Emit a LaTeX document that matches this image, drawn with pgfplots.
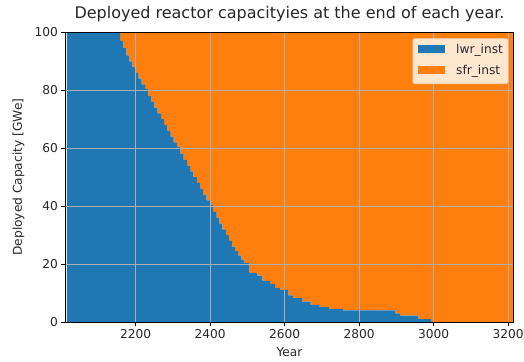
\documentclass[border=0pt]{standalone}
\usepackage{pgfplots}
\pgfplotsset{compat=1.18}
\usepackage{pgfplotstable}
\usepackage{fontspec}
\setmainfont{DejaVu Sans}
\definecolor{mblue}{HTML}{1F77B4}
\definecolor{morange}{HTML}{FF7F0E}
\definecolor{mgrid}{HTML}{B0B0B0}
\definecolor{legbg}{HTML}{FFE6CF}
\definecolor{legedge}{HTML}{F2D5BE}
\pgfplotstableread{
year lwr sfr
2015 100 0
2158 97 3
2167 94.5 5.5
2175 92 8
2183 90 10
2191 88 12
2200 86 14
2208 84 16
2216 82 18
2225 80.5 19.5
2233 78 22
2242 76 24
2250 74 26
2259 72 28
2268 70 30
2276 68 32
2285 66 34
2294 64 36
2302 62 38
2311 60.5 39.5
2320 58 42
2329 56 44
2338 54 46
2346 52 48
2355 50 50
2364 48 52
2373 46 54
2381 44 56
2390 42 58
2399 40.5 59.5
2408 38 62
2417 36 64
2425 34 66
2433 32 68
2442 30 70
2450 28 72
2458 26 74
2467 24.5 75.5
2475 23 77
2484 21.5 78.5
2492 20.3 79.7
2505 17 83
2527 16 84
2540 14.2 85.8
2561 13.1 86.9
2574 11.8 88.2
2587 11 89
2610 9.2 90.8
2623 8.2 91.8
2647 7 93
2670 5.9 94.1
2694 5.1 94.9
2719 4.5 95.5
2756 4 96
2897 3 97
2910 2.2 97.8
2959 1 99
2993 0 100
3214 0 100
}\datatable
\begin{document}
\begin{tikzpicture}
\begin{axis}[
  name=ax,
  axis on top,
  scale only axis,
  width=447.6bp, height=289.7bp,
  xmin=2012, xmax=3214, ymin=0, ymax=100,
  xtick={2200,2400,2600,2800,3000,3200},
  ytick={0,20,40,60,80,100},
  /pgf/number format/1000 sep={},
  /pgf/number format/assume math mode=true,
  tick label style={font=\fontsize{12.2bp}{14bp}\selectfont, text=black!85},
  label style={font=\fontsize{12.2bp}{14bp}\selectfont, text=black!85},
  xlabel={Year}, ylabel={Deployed Capacity [GWe]},
  xlabel style={at={(0.5,0)}, anchor=north, yshift=-25bp, inner sep=0pt},
  ylabel style={at={(0,0.5)}, anchor=south, yshift=41bp, inner sep=0pt},
  title={Deployed reactor capacityies at the end of each year.},
  title style={font=\fontsize{16bp}{19bp}\selectfont, text=black!85, at={(0.5,1)}, anchor=base, yshift=8bp, inner sep=0pt},
  tick align=outside, major tick length=4.2bp,
  tick style={black, line width=0.9bp},
  xtick pos=bottom, ytick pos=left,
  axis line style={black, line width=0.9bp},
  grid=major, grid style={mgrid, line width=0.9bp},
  stack plots=y, const plot,
]
\addplot[draw=none, fill=mblue] table[x=year, y=lwr] {\datatable} \closedcycle;
\addplot[draw=none, fill=morange] table[x=year, y=sfr] {\datatable} \closedcycle;
\end{axis}
\node[anchor=north east, fill=legbg, draw=legedge, line width=0.8bp, rounded corners=2bp,
      inner xsep=5bp, inner ysep=5bp, font=\fontsize{12.2bp}{14bp}\selectfont, text=black!85]
  at ([xshift=-5bp,yshift=-6bp]ax.north east)
  {\begin{tabular}{@{}l@{\hspace{11.5bp}}l@{}}
   \textcolor{mblue}{\rule[0.5bp]{26.7bp}{7.7bp}} & lwr\_inst\\[7bp]
   \textcolor{morange}{\rule[0.5bp]{26.7bp}{7.7bp}} & sfr\_inst
   \end{tabular}};
\pgfresetboundingbox
\path (-65.7bp,-40bp) rectangle (458.3bp,322bp);
\end{tikzpicture}
\end{document}
